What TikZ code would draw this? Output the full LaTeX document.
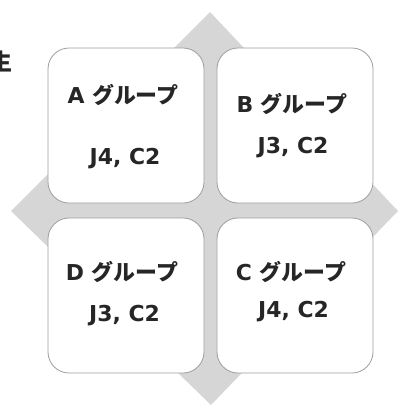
\documentclass[tikz,border=0pt]{standalone}
\usepackage{fontspec}
\setmainfont{DejaVu Sans}
\newfontfamily\jp{Noto Sans CJK JP}
\begin{document}
\begin{tikzpicture}[x=1bp,y=-1bp,
  grp/.style={draw=black!38, line width=0.8bp, fill=white, rounded corners=21bp,
    minimum width=156bp, minimum height=155bp, inner sep=0pt},
  lbl/.style={anchor=base, text=black!85, font=\fontsize{22}{26}\selectfont\bfseries, inner sep=0pt}
]
\useasboundingbox (0,0) rectangle (402,407);
\clip (0,0) rectangle (402,407);
% grey diamond behind the four groups
\fill[black!16] (210,12) -- (398,211) -- (211,405) -- (11,211) -- cycle;
% cut-off heading at the left edge
\node[anchor=base, text=black!85, font=\jp\fontsize{23}{26}\selectfont\bfseries, inner sep=0pt] (head) at (1,70) {生};
% the four group boxes
\node[grp] (A) at (126,125.5) {};
\node[grp] (B) at (295,125.5) {};
\node[grp] (D) at (126,295.5) {};
\node[grp] (C) at (295,295.5) {};
% titles and values
\node[lbl] (At) at (123,103) {A {\jp グループ}};
\node[lbl] (Av) at (125,164) {J4, C2};
\node[lbl] (Bt) at (292,112) {B {\jp グループ}};
\node[lbl] (Bv) at (293,153) {J3, C2};
\node[lbl] (Dt) at (122,280) {D {\jp グループ}};
\node[lbl] (Dv) at (124.5,321) {J3, C2};
\node[lbl] (Ct) at (291,280) {C {\jp グループ}};
\node[lbl] (Cv) at (293.5,317) {J4, C2};
\end{tikzpicture}
\end{document}
